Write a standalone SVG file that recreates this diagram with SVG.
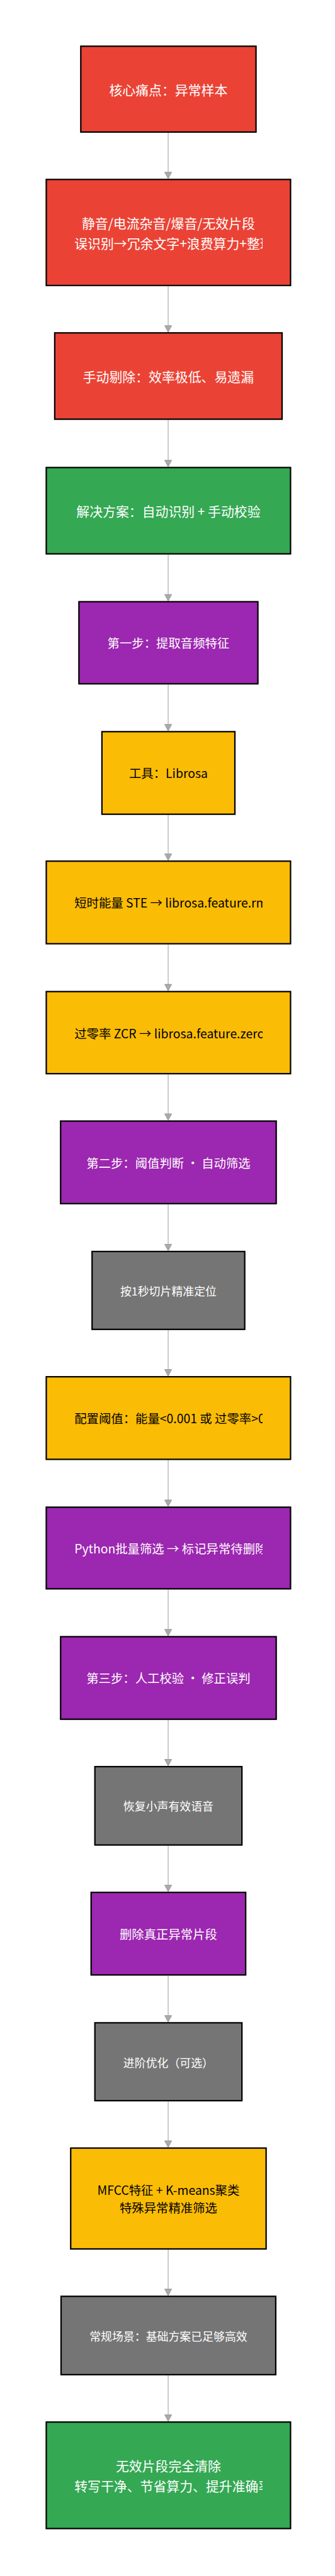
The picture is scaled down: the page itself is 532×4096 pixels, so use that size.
<svg xmlns="http://www.w3.org/2000/svg" width="532" height="4096" viewBox="0 0 532 4096">
<style>
.n rect{stroke:#000;stroke-width:3}
.red{fill:#EA4335}.grn{fill:#34A853}.pur{fill:#9C27B0}.yel{fill:#FBBC05}.gry{fill:#757575}
text{font-family:"Noto Sans CJK SC","Noto Sans",sans-serif;dominant-baseline:central}
.w{fill:#fff}.b{fill:#000}
.f28{font-size:28px}.f26{font-size:26px}.f24{font-size:24px}
.c{text-anchor:middle}.l{text-anchor:start}
.e line{stroke:#a6a6a6;stroke-width:1.5}
.e polygon{fill:#aaa;stroke:#8a8a8a;stroke-width:1}
</style>
<defs>
<clipPath id="clip" clipPathUnits="userSpaceOnUse"><rect x="158" y="0" width="401" height="5486"/></clipPath>
</defs>
<rect width="532" height="4096" fill="#fff"/>
<g transform="scale(0.746)">
<g id="connectors" class="e">
<line x1="358" y1="283" x2="358" y2="367"/><polygon points="350.5,367 365.5,367 358,381"/>
<line x1="358" y1="610" x2="358" y2="694"/><polygon points="350.5,694 365.5,694 358,708"/>
<line x1="358" y1="895" x2="358" y2="981"/><polygon points="350.5,981 365.5,981 358,995"/>
<line x1="358" y1="1182" x2="358" y2="1267"/><polygon points="350.5,1267 365.5,1267 358,1281"/>
<line x1="358" y1="1459" x2="358" y2="1544"/><polygon points="350.5,1544 365.5,1544 358,1558"/>
<line x1="358" y1="1737" x2="358" y2="1820"/><polygon points="350.5,1820 365.5,1820 358,1834"/>
<line x1="358" y1="2013" x2="358" y2="2098"/><polygon points="350.5,2098 365.5,2098 358,2112"/>
<line x1="358" y1="2290" x2="358" y2="2374"/><polygon points="350.5,2374 365.5,2374 358,2388"/>
<line x1="358" y1="2567" x2="358" y2="2652"/><polygon points="350.5,2652 365.5,2652 358,2666"/>
<line x1="358" y1="2835" x2="358" y2="2919"/><polygon points="350.5,2919 365.5,2919 358,2933"/>
<line x1="358" y1="3112" x2="358" y2="3197"/><polygon points="350.5,3197 365.5,3197 358,3211"/>
<line x1="358" y1="3388" x2="358" y2="3473"/><polygon points="350.5,3473 365.5,3473 358,3487"/>
<line x1="358" y1="3666" x2="358" y2="3750"/><polygon points="350.5,3750 365.5,3750 358,3764"/>
<line x1="358" y1="3934" x2="358" y2="4018"/><polygon points="350.5,4018 365.5,4018 358,4032"/>
<line x1="358" y1="4211" x2="358" y2="4296"/><polygon points="350.5,4296 365.5,4296 358,4310"/>
<line x1="358" y1="4479" x2="358" y2="4563"/><polygon points="350.5,4563 365.5,4563 358,4577"/>
<line x1="358" y1="4795" x2="358" y2="4879"/><polygon points="350.5,4879 365.5,4879 358,4893"/>
<line x1="358" y1="5063" x2="358" y2="5147"/><polygon points="350.5,5147 365.5,5147 358,5161"/>
</g>
<g id="n1" class="n"><rect class="red" x="172" y="98.5" width="373" height="183"/><text class="w f28 c" x="358.5" y="191">核心痛点：异常样本</text></g>
<g id="n2" class="n"><rect class="red" x="98.5" y="382.5" width="520" height="226"/><text class="w f28 c" x="358.5" y="475">静音/电流杂音/爆音/无效片段</text><text class="w f28 l" x="158.5" y="517" clip-path="url(#clip)">误识别→冗余文字+浪费算力+整理</text></g>
<g id="n3" class="n"><rect class="red" x="116.5" y="709.5" width="484" height="184"/><text class="w f28 c" x="358.5" y="802">手动剔除：效率极低、易遗漏</text></g>
<g id="n4" class="n"><rect class="grn" x="98.5" y="996.5" width="520" height="184"/><text class="w f28 c" x="358.5" y="1089">解决方案：自动识别 + 手动校验</text></g>
<g id="n5" class="n"><rect class="pur" x="168" y="1282.5" width="381" height="175"/><text class="w f26 c" x="358.5" y="1370">第一步：提取音频特征</text></g>
<g id="n6" class="n"><rect class="yel" x="217" y="1559.5" width="283" height="176"/><text class="b f26 c" x="358.5" y="1648">工具：Librosa</text></g>
<g id="n7" class="n"><rect class="yel" x="98.5" y="1835.5" width="520" height="176"/><text class="b f26 l" x="158.5" y="1924" clip-path="url(#clip)">短时能量 STE → librosa.feature.rms</text></g>
<g id="n8" class="n"><rect class="yel" x="98.5" y="2113.5" width="520" height="175"/><text class="b f26 l" x="158.5" y="2202" clip-path="url(#clip)">过零率 ZCR → librosa.feature.zero</text></g>
<g id="n9" class="n"><rect class="pur" x="129" y="2389.5" width="459" height="176"/><text class="w f26 c" x="358.5" y="2478">第二步：阈值判断 · 自动筛选</text></g>
<g id="n10" class="n"><rect class="gry" x="196" y="2667.5" width="325" height="166"/><text class="w f24 c" x="358.5" y="2751">按1秒切片精准定位</text></g>
<g id="n11" class="n"><rect class="yel" x="98.5" y="2934.5" width="520" height="176"/><text class="b f26 l" x="158.5" y="3023" clip-path="url(#clip)">配置阈值：能量&lt;0.001 或 过零率&gt;0</text></g>
<g id="n12" class="n"><rect class="pur" x="98.5" y="3212.5" width="520" height="174"/><text class="w f26 l" x="158.5" y="3300" clip-path="url(#clip)">Python批量筛选 → 标记异常待删除</text></g>
<g id="n13" class="n"><rect class="pur" x="129" y="3488.5" width="459" height="176"/><text class="w f26 c" x="358.5" y="3577">第三步：人工校验 · 修正误判</text></g>
<g id="n14" class="n"><rect class="gry" x="202" y="3765.5" width="313" height="167"/><text class="w f24 c" x="358.5" y="3849">恢复小声有效语音</text></g>
<g id="n15" class="n"><rect class="pur" x="194" y="4033.5" width="329" height="176"/><text class="w f26 c" x="358.5" y="4122">删除真正异常片段</text></g>
<g id="n16" class="n"><rect class="gry" x="202" y="4311.5" width="313" height="166"/><text class="w f24 c" x="358.5" y="4395">进阶优化（可选）</text></g>
<g id="n17" class="n"><rect class="yel" x="150.5" y="4578.5" width="416" height="215"/><text class="b f26 c" x="358.5" y="4667">MFCC特征 + K-means聚类</text><text class="b f26 c" x="358.5" y="4705">特殊异常精准筛选</text></g>
<g id="n18" class="n"><rect class="gry" x="130" y="4894.5" width="457" height="167"/><text class="w f24 c" x="358.5" y="4979">常规场景：基础方案已足够高效</text></g>
<g id="n19" class="n"><rect class="grn" x="98.5" y="5162.5" width="520" height="227"/><text class="w f28 c" x="358.5" y="5255">无效片段完全清除</text><text class="w f28 l" x="158.5" y="5297" clip-path="url(#clip)">转写干净、节省算力、提升准确率</text></g>
</g>
</svg>
